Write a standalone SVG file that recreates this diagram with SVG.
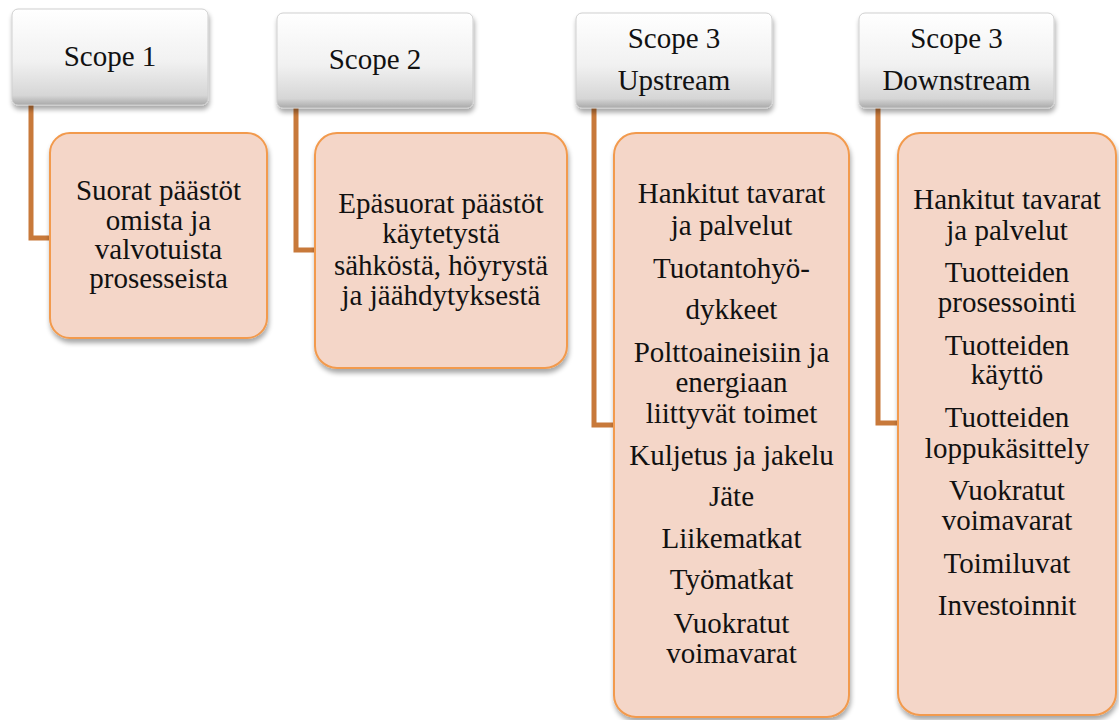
<svg xmlns="http://www.w3.org/2000/svg" width="1119" height="720" viewBox="0 0 1119 720">
  <defs>
    <linearGradient id="headFill" x1="0" y1="0" x2="0" y2="1">
      <stop offset="0" stop-color="#ffffff"/>
      <stop offset="0.55" stop-color="#f1f1f1"/>
      <stop offset="0.9" stop-color="#d6d6d6"/>
      <stop offset="1" stop-color="#a9a9a9"/>
    </linearGradient>
    <filter id="shadow" x="-10%" y="-10%" width="120%" height="125%">
      <feGaussianBlur in="SourceAlpha" stdDeviation="2.5"/>
      <feOffset dx="1" dy="4" result="b"/>
      <feComponentTransfer><feFuncA type="linear" slope="0.35"/></feComponentTransfer>
      <feMerge><feMergeNode/><feMergeNode in="SourceGraphic"/></feMerge>
    </filter>
  </defs>
  <style>
    .head { fill: url(#headFill); stroke: #cfcfcf; stroke-width: 1; filter: url(#shadow); }
    .item { fill: #f4d6c8; stroke: #f29a4d; stroke-width: 2; filter: url(#shadow); }
    .link { fill: none; stroke: #c8793a; stroke-width: 5; stroke-linejoin: miter; }
    text { font-family: "Liberation Serif", "Times New Roman", serif; font-size: 29px; fill: #111111; text-anchor: middle; }
  </style>

  <rect width="1119" height="720" fill="#ffffff"/>

  <!-- connectors from each scope header to its detail box -->
  <g id="connectors">
    <path class="link" d="M31,105 V238 H51"/>
    <path class="link" d="M296,108 V250 H316"/>
    <path class="link" d="M594,108 V425 H615"/>
    <path class="link" d="M878,108 V423 H899"/>
  </g>

  <!-- Scope 1 -->
  <g id="scope1">
    <rect class="head" x="12" y="9" width="196" height="96" rx="6"/>
    <text x="110" y="66">Scope 1</text>
  </g>
  <g id="scope1-detail">
    <rect class="item" x="50" y="133" width="217" height="205" rx="20"/>
    <text x="158.5" y="200">Suorat päästöt</text>
    <text x="158.5" y="230">omista ja</text>
    <text x="158.5" y="259">valvotuista</text>
    <text x="158.5" y="288">prosesseista</text>
  </g>

  <!-- Scope 2 -->
  <g id="scope2">
    <rect class="head" x="277" y="13" width="196" height="95" rx="6"/>
    <text x="375" y="69">Scope 2</text>
  </g>
  <g id="scope2-detail">
    <rect class="item" x="315" y="133" width="252" height="235" rx="22"/>
    <text x="441" y="213">Epäsuorat päästöt</text>
    <text x="441" y="243">käytetystä</text>
    <text x="441" y="275">sähköstä, höyrystä</text>
    <text x="441" y="305">ja jäähdytyksestä</text>
  </g>

  <!-- Scope 3 Upstream -->
  <g id="scope3-upstream">
    <rect class="head" x="576" y="13" width="196" height="95" rx="6"/>
    <text x="674" y="48">Scope 3</text>
    <text x="674" y="90">Upstream</text>
  </g>
  <g id="scope3-upstream-detail">
    <rect class="item" x="614" y="133" width="235" height="584" rx="22"/>
    <text x="731.5" y="203">Hankitut tavarat</text>
    <text x="731.5" y="235">ja palvelut</text>
    <text x="731.5" y="278">Tuotantohyö-</text>
    <text x="731.5" y="319">dykkeet</text>
    <text x="731.5" y="362">Polttoaineisiin ja</text>
    <text x="731.5" y="392">energiaan</text>
    <text x="731.5" y="423">liittyvät toimet</text>
    <text x="731.5" y="465">Kuljetus ja jakelu</text>
    <text x="731.5" y="506">Jäte</text>
    <text x="731.5" y="548">Liikematkat</text>
    <text x="731.5" y="589">Työmatkat</text>
    <text x="731.5" y="633">Vuokratut</text>
    <text x="731.5" y="663">voimavarat</text>
  </g>

  <!-- Scope 3 Downstream -->
  <g id="scope3-downstream">
    <rect class="head" x="859" y="13" width="195" height="95" rx="6"/>
    <text x="956.5" y="48">Scope 3</text>
    <text x="956.5" y="90">Downstream</text>
  </g>
  <g id="scope3-downstream-detail">
    <rect class="item" x="898" y="133" width="218" height="582" rx="22"/>
    <text x="1007" y="209">Hankitut tavarat</text>
    <text x="1007" y="240">ja palvelut</text>
    <text x="1007" y="282">Tuotteiden</text>
    <text x="1007" y="312">prosessointi</text>
    <text x="1007" y="355">Tuotteiden</text>
    <text x="1007" y="384">käyttö</text>
    <text x="1007" y="427">Tuotteiden</text>
    <text x="1007" y="458">loppukäsittely</text>
    <text x="1007" y="500">Vuokratut</text>
    <text x="1007" y="530">voimavarat</text>
    <text x="1007" y="573">Toimiluvat</text>
    <text x="1007" y="615">Investoinnit</text>
  </g>
</svg>
